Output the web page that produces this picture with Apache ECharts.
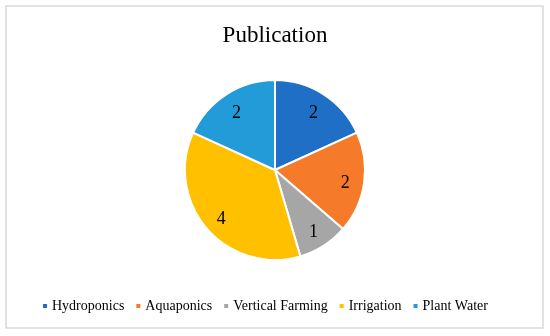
<!DOCTYPE html>
<html><head><meta charset="utf-8">
<script src="https://cdn.jsdelivr.net/npm/echarts@6/dist/echarts.min.js"></script>
<style>html,body{margin:0;padding:0;background:#fff}#c{width:550px;height:336px}</style>
</head><body><div id="c"></div>
<script>
const categories = ['Hydroponics', 'Aquaponics', 'Vertical Farming', 'Irrigation', 'Plant Water'];
const values = [2, 2, 1, 4, 2];
const colors = ['#1f6fc6', '#f57a2a', '#a6a6a6', '#ffc000', '#229bd8'];
const titleText = 'Publication';

const data = categories.map((n, i) => ({ name: n, value: values[i], itemStyle: { color: colors[i] } }));
const serif = "'Liberation Serif', 'DejaVu Serif', serif";
const chart = echarts.init(document.getElementById('c'), null, { renderer: 'canvas' });
chart.setOption({
  animation: false,
  backgroundColor: '#fff',
  graphic: [{ type: 'rect', shape: { x: 6, y: 6, width: 537, height: 322 }, style: { fill: 'none', stroke: '#d9d9d9', lineWidth: 1.5 } }],
  title: { text: titleText, left: 'center', top: 19, textStyle: { fontFamily: serif, fontSize: 23, fontWeight: 'normal', color: '#000' } },
  legend: {
    data: categories, top: 294, left: 36, icon: 'rect', itemWidth: 6, itemHeight: 6, itemGap: 10,
    textStyle: { fontFamily: serif, fontSize: 14, color: '#000', padding: [0, 0, 0, -1] }
  },
  series: [
    { type: 'pie', center: [275, 170], radius: [0, 90], startAngle: 90, clockwise: true, data: data,
      label: { show: false }, labelLine: { show: false }, itemStyle: { borderColor: '#fff', borderWidth: 2 }, silent: true },
    { type: 'pie', center: [275, 173], radius: [58, 78], startAngle: 90, clockwise: true, data: data.map(d => ({ name: d.name, value: d.value, itemStyle: { color: 'rgba(0,0,0,0)' } })),
      label: { show: true, position: 'inside', formatter: '{c}', fontFamily: serif, fontSize: 18, color: '#000' }, labelLine: { show: false }, silent: true, legendHoverLink: false }
  ]
});
</script></body></html>
